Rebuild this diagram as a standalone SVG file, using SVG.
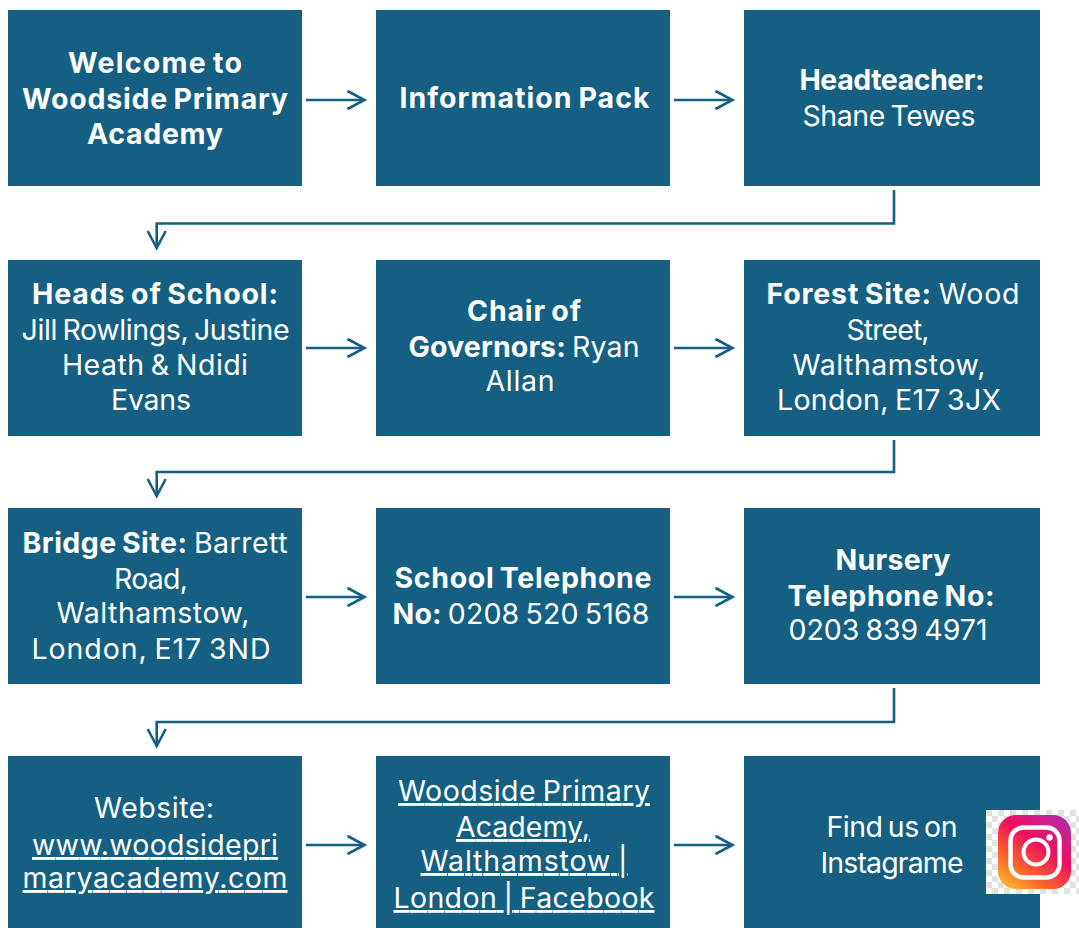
<svg xmlns="http://www.w3.org/2000/svg" width="1079" height="928" viewBox="0 0 1079 928">
<style>
.b{fill:#156082}
.c{fill:none;stroke:#156082;stroke-width:2.6}
text{font-family:"Inter","Noto Sans","Liberation Sans",sans-serif;font-size:28.5px;word-spacing:-2px;fill:#fff;text-anchor:middle}
.h{font-weight:700}
.l{text-decoration:underline}
</style>
<defs>
<marker id="a" markerUnits="userSpaceOnUse" markerWidth="30" markerHeight="30" refX="20" refY="12" orient="auto"><path d="M3 3L20 12L3 21" fill="none" stroke="#156082" stroke-width="2.600"/></marker>
<pattern id="k" width="12" height="12" patternUnits="userSpaceOnUse" x="986" y="810"><rect width="12" height="12" fill="#fff"/><rect width="6" height="6" fill="#e2e2e2"/><rect x="6" y="6" width="6" height="6" fill="#e2e2e2"/></pattern>
<linearGradient id="g" x1="0.150" y1="1" x2="0.850" y2="0"><stop offset="0" stop-color="#fdb32b"/><stop offset="0.300" stop-color="#fb5a2e"/><stop offset="0.600" stop-color="#ee0f5f"/><stop offset="1" stop-color="#b42ba6"/></linearGradient>
</defs>
<g id="connectors">
<path class="c" marker-end="url(#a)" d="M306 100H364.500"/>
<path class="c" marker-end="url(#a)" d="M674 100H732.500"/>
<path class="c" marker-end="url(#a)" d="M894 190V223.500H156.700V248"/>
<path class="c" marker-end="url(#a)" d="M306 348H364.500"/>
<path class="c" marker-end="url(#a)" d="M674 348H732.500"/>
<path class="c" marker-end="url(#a)" d="M894 440V472H156.700V496"/>
<path class="c" marker-end="url(#a)" d="M306 597H364.500"/>
<path class="c" marker-end="url(#a)" d="M674 597H732.500"/>
<path class="c" marker-end="url(#a)" d="M894 688V722H156.700V746"/>
<path class="c" marker-end="url(#a)" d="M306 845H364.500"/>
<path class="c" marker-end="url(#a)" d="M674 845H732.500"/>
</g>
<g id="n1"><rect class="b" x="8" y="10" width="294" height="176"/><text class="h" x="155" y="73" textLength="174">Welcome to</text><text class="h" x="155" y="109" textLength="266">Woodside Primary</text><text class="h" x="155" y="144" textLength="136">Academy</text></g>
<g id="n2"><rect class="b" x="376" y="10" width="294" height="176"/><text class="h" x="524.500" y="108" textLength="250">Information Pack</text></g>
<g id="n3"><rect class="b" x="744" y="10" width="296" height="176"/><text class="h" x="892" y="90" textLength="185">Headteacher:</text><text x="889" y="126" textLength="173">Shane Tewes</text></g>
<g id="n4"><rect class="b" x="8" y="260" width="294" height="176"/><text class="h" x="155" y="304" textLength="246">Heads of School:</text><text x="155.500" y="340" textLength="268">Jill Rowlings, Justine</text><text x="155" y="375" textLength="186">Heath &amp; Ndidi</text><text x="151" y="410" textLength="80">Evans</text></g>
<g id="n5"><rect class="b" x="376" y="260" width="294" height="176"/><text class="h" x="524" y="321" textLength="114">Chair of</text><text x="524" y="357" textLength="231"><tspan class="h">Governors:</tspan> Ryan</text><text x="520" y="391" textLength="69">Allan</text></g>
<g id="n6"><rect class="b" x="744" y="260" width="296" height="176"/><text x="893" y="304" textLength="253"><tspan class="h">Forest Site:</tspan> Wood</text><text x="888" y="340" textLength="83">Street,</text><text x="889" y="375" textLength="193">Walthamstow,</text><text x="889" y="410" textLength="224">London, E17 3JX</text></g>
<g id="n7"><rect class="b" x="8" y="508" width="294" height="176"/><text x="155" y="553" textLength="265"><tspan class="h">Bridge Site:</tspan> Barrett</text><text x="151" y="589" textLength="74">Road,</text><text x="153" y="623" textLength="193">Walthamstow,</text><text x="151" y="659" textLength="239">London, E17 3ND</text></g>
<g id="n8"><rect class="b" x="376" y="508" width="294" height="176"/><text class="h" x="523" y="588" textLength="257">School Telephone</text><text x="521" y="624" textLength="257"><tspan class="h">No:</tspan> 0208 520 5168</text></g>
<g id="n9"><rect class="b" x="744" y="508" width="296" height="176"/><text class="h" x="893" y="570" textLength="115">Nursery</text><text class="h" x="891" y="606" textLength="207">Telephone No:</text><text x="888" y="640" textLength="199">0203 839 4971</text></g>
<g id="n10"><rect class="b" x="8" y="756" width="294" height="172"/><text x="154" y="818" textLength="120">Website:</text><text class="l" x="155" y="855" textLength="246">www.woodsidepri</text><text class="l" x="155" y="888" textLength="265">maryacademy.com</text></g>
<g id="n11"><rect class="b" x="376" y="756" width="294" height="172"/><text class="l" x="524" y="801" textLength="252">Woodside Primary</text><text class="l" x="523" y="837" textLength="134">Academy,</text><text class="l" x="524" y="871" textLength="207">Walthamstow |</text><text class="l" x="524" y="908" textLength="261">London | Facebook</text></g>
<g id="n12"><rect class="b" x="744" y="756" width="296" height="172"/><text x="892" y="837" textLength="131">Find us on</text><text x="892" y="873" textLength="143">Instagrame</text>
<rect x="986" y="810" width="93" height="84" fill="url(#k)"/><rect x="998" y="815" width="73" height="74" rx="18" fill="url(#g)"/><rect x="1010.500" y="827.500" width="49" height="50" rx="13" fill="none" stroke="#fff" stroke-width="4.500"/><circle cx="1036" cy="852" r="12.500" fill="none" stroke="#fff" stroke-width="4"/><circle cx="1049.500" cy="837.500" r="3.200" fill="#fff"/></g>
</svg>
